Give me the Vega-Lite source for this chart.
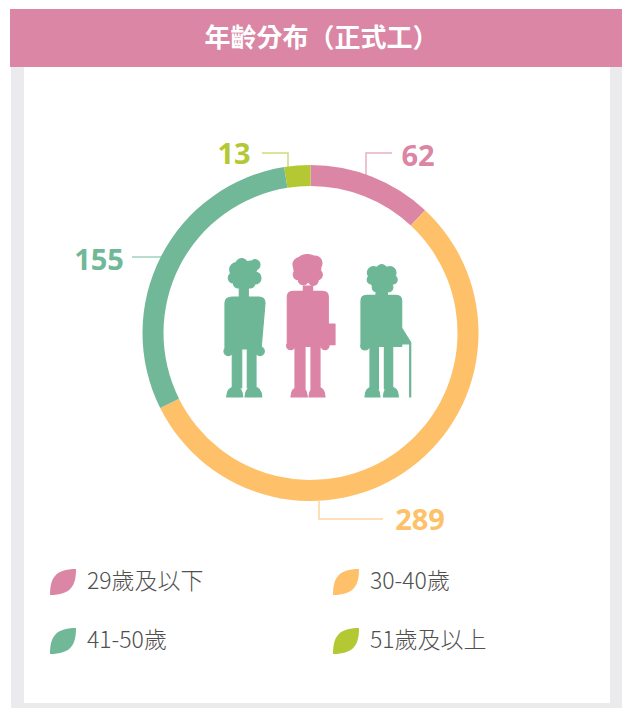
{
"$schema":"https://vega.github.io/schema/vega-lite/v6.json",
"width":622,"height":708,"padding":0,"autosize":"none","background":"#ffffff",
"config":{"view":{"stroke":null},"axis":{"disable":true}},
"title":{"text":"年齡分布（正式工）","font":"Noto Sans CJK TC","fontWeight":700,"fontSize":26,"color":"#ffffff","anchor":"middle","frame":"group","dx":10.5,"dy":51.5,"offset":0,"zindex":1},
"datasets":{
"ages":[{"group":"29歲及以下","count":62,"rank":1},{"group":"30-40歲","count":289,"rank":2},{"group":"41-50歲","count":155,"rank":3},{"group":"51歲及以上","count":13,"rank":4}],
"leaders":[
{"group":"29歲及以下","step":1,"px":366,"py":176},{"group":"29歲及以下","step":2,"px":366,"py":153},{"group":"29歲及以下","step":3,"px":392,"py":153},
{"group":"30-40歲","step":1,"px":319,"py":501},{"group":"30-40歲","step":2,"px":319,"py":519},{"group":"30-40歲","step":3,"px":383,"py":519},
{"group":"41-50歲","step":1,"px":132,"py":257},{"group":"41-50歲","step":2,"px":164,"py":257},
{"group":"51歲及以上","step":1,"px":262,"py":153},{"group":"51歲及以上","step":2,"px":288,"py":153},{"group":"51歲及以上","step":3,"px":288,"py":167}],
"labels":[{"group":"29歲及以下","count":62,"px":418,"py":156.5},{"group":"30-40歲","count":289,"px":420,"py":520.5},{"group":"41-50歲","count":155,"px":99,"py":260.5},{"group":"51歲及以上","count":13,"px":234,"py":154.5}]
},
"layer":[
{"data":{"values":[{}]},"mark":{"type":"rect","color":"#ebebed"},"encoding":{
"x":{"datum":11,"type":"quantitative","scale":{"domain":[0,622],"nice":false,"zero":false},"axis":null},"x2":{"datum":622},
"y":{"datum":67,"type":"quantitative","scale":{"domain":[0,708],"reverse":true,"nice":false,"zero":false},"axis":null},"y2":{"datum":708}}},
{"data":{"values":[{}]},"mark":{"type":"rect","color":"#ffffff"},"encoding":{
"x":{"datum":24,"type":"quantitative"},"x2":{"datum":610},"y":{"datum":67,"type":"quantitative"},"y2":{"datum":703}}},
{"data":{"values":[{}]},"mark":{"type":"rect","color":"#da86a4"},"encoding":{
"x":{"datum":10,"type":"quantitative"},"x2":{"datum":622},"y":{"datum":9,"type":"quantitative"},"y2":{"datum":67}}},
{"data":{"name":"ages"},"mark":{"type":"arc","outerRadius":168,"innerRadius":147},"encoding":{
"theta":{"field":"count","type":"quantitative","stack":true},
"order":{"field":"rank"},
"x":{"value":310.5},"y":{"value":333},
"color":{"field":"group","type":"nominal","scale":{"domain":["29歲及以下","30-40歲","41-50歲","51歲及以上"],"range":["#da86a4","#fec16a","#70b898","#b3c833"]},
"legend":{"orient":"none","direction":"horizontal","legendX":50,"legendY":569,"columns":2,"title":null,"padding":0,"zindex":1,"gridAlign":"all","symbolType":"M1 -1C-0.6 -1 -1 -0.3 -1 1C0.6 1 1 0.3 1 -1Z","symbolSize":676,"symbolStrokeWidth":0,"symbolOpacity":1,"labelOffset":11,"labelFont":"Noto Sans CJK TC","labelFontWeight":300,"labelFontSize":23,"labelColor":"#505050","labelLimit":300,"columnPadding":129,"rowPadding":33}}}},
{"data":{"name":"leaders"},"mark":{"type":"line","strokeWidth":1.5,"strokeOpacity":0.65},"encoding":{
"x":{"field":"px","type":"quantitative"},"y":{"field":"py","type":"quantitative"},"order":{"field":"step"},
"color":{"field":"group","type":"nominal"}}},
{"data":{"name":"labels"},"mark":{"type":"text","font":"Open Sans","fontWeight":700,"fontSize":29,"align":"center","baseline":"middle"},"encoding":{
"x":{"field":"px","type":"quantitative"},"y":{"field":"py","type":"quantitative"},"text":{"field":"count","type":"nominal"},
"color":{"field":"group","type":"nominal"}}},
{"data":{"values":[{"figure":"younger"}]},"mark":{"type":"point","filled":true,"opacity":1,"size":4,"fill":"#6db797","stroke":"#6db797","strokeWidth":1.2,"strokeJoin":"round",
"shape":"M-13.7 -122a13 13 0 1 1 26 0a13 13 0 1 1 -26 0ZM-14.3 -127.3a7 7 0 1 1 14 0a7 7 0 1 1 -14 0ZM-1 -129a7 7 0 1 1 14 0a7 7 0 1 1 -14 0ZM6 -132.3a5 5 0 1 1 10 0a5 5 0 1 1 -10 0ZM-8.3 -132.3a6 6 0 1 1 12 0a6 6 0 1 1 -12 0ZM-15.7 -119a5 5 0 1 1 10 0a5 5 0 1 1 -10 0ZM5 -119a6 6 0 1 1 12 0a6 6 0 1 1 -12 0ZM-10.7 -114a5 5 0 1 1 10 0a5 5 0 1 1 -10 0ZM1 -114a5 5 0 1 1 10 0a5 5 0 1 1 -10 0ZM-4.7 -111H4.3V-97H-4.7ZM-19 -94Q-19 -100 -12 -100L15 -100Q21 -100 21 -94L17 -48L-19 -48ZM-20 -45.7a4.3 4.3 0 1 1 8.6 0a4.3 4.3 0 1 1 -8.6 0ZM11.7 -45.7a4.3 4.3 0 1 1 8.6 0a4.3 4.3 0 1 1 -8.6 0ZM-11.7 -49H-2.3V-9H-11.7ZM3.3 -49H12V-9H3.3ZM-17.3 0Q-17 -10 -9 -10Q-1.5 -10 -1.3 0ZM1 0Q1.5 -10 9 -10Q17.5 -10 17.7 0Z"},
"encoding":{"x":{"datum":244,"type":"quantitative"},"y":{"datum":397,"type":"quantitative"}}},
{"data":{"values":[{"figure":"middle"}]},"mark":{"type":"point","filled":true,"opacity":1,"size":4,"fill":"#dc84a6","stroke":"#dc84a6","strokeWidth":1.2,"strokeJoin":"round",
"shape":"M-14.5 -129a13.5 13.5 0 1 1 27 0a13.5 13.5 0 1 1 -27 0ZM-15.3 -132.3a7 7 0 1 1 14 0a7 7 0 1 1 -14 0ZM-0.3 -134a7 7 0 1 1 14 0a7 7 0 1 1 -14 0ZM-6.7 -136.7a5 5 0 1 1 10 0a5 5 0 1 1 -10 0ZM-15 -122.3a5 5 0 1 1 10 0a5 5 0 1 1 -10 0ZM4 -122.3a5 5 0 1 1 10 0a5 5 0 1 1 -10 0ZM-10 -117.3a5 5 0 1 1 10 0a5 5 0 1 1 -10 0ZM0 -116.7a5 5 0 1 1 10 0a5 5 0 1 1 -10 0ZM-5 -111H4.3V-104H-5ZM-21 -100Q-21 -105.7 -15 -105.7L14 -105.7Q20 -105.7 20 -100L20 -50.7L-21 -50.7ZM20 -73H26.7V-52.3H20ZM-21.7 -51.3a4 4 0 1 1 8 0a4 4 0 1 1 -8 0ZM12.7 -51.3a4 4 0 1 1 8 0a4 4 0 1 1 -8 0ZM-13.3 -52H-3.3V-8H-13.3ZM2.7 -52H11.7V-8H2.7ZM-17.3 0Q-17 -10 -9 -10Q-1.3 -10 -1 0ZM0.7 0Q1 -10 8.7 -10Q16.5 -10 16.7 0Z"},
"encoding":{"x":{"datum":308.3,"type":"quantitative"},"y":{"datum":397,"type":"quantitative"}}},
{"data":{"values":[{"figure":"older"}]},"mark":{"type":"point","filled":true,"opacity":1,"size":4,"fill":"#6db797","stroke":"#6db797","strokeWidth":1.2,"strokeJoin":"round",
"shape":"M-12 -119a12 12 0 1 1 24 0a12 12 0 1 1 -24 0ZM-14.3 -124.3a6 6 0 1 1 12 0a6 6 0 1 1 -12 0ZM2.3 -124.3a6 6 0 1 1 12 0a6 6 0 1 1 -12 0ZM-5 -127.3a5 5 0 1 1 10 0a5 5 0 1 1 -10 0ZM-14.5 -117.3a4.5 4.5 0 1 1 9 0a4.5 4.5 0 1 1 -9 0ZM6.5 -117.3a4.5 4.5 0 1 1 9 0a4.5 4.5 0 1 1 -9 0ZM-9.5 -109.7a4.5 4.5 0 1 1 9 0a4.5 4.5 0 1 1 -9 0ZM2.2 -109.7a4.5 4.5 0 1 1 9 0a4.5 4.5 0 1 1 -9 0ZM-5.7 -107H5.7V-99H-5.7ZM-20.7 -96Q-20.7 -101.7 -15 -101.7L14 -101.7Q20 -101.7 20 -96L20 -50.7L-20.7 -50.7ZM20 -69L28.3 -55.7L20 -53ZM-21 -51.3a4.3 4.3 0 1 1 8.6 0a4.3 4.3 0 1 1 -8.6 0ZM18 -55H29V-53H18ZM28 -55H29V0H28ZM-11.7 -52H-3.3V-8H-11.7ZM2.7 -52H11V-8H2.7ZM-16.7 0Q-16.5 -10 -9 -10Q-2 -10 -1.7 0ZM1.7 0Q2 -10 9 -10Q16.5 -10 16.7 0Z"},
"encoding":{"x":{"datum":381.7,"type":"quantitative"},"y":{"datum":397,"type":"quantitative"}}}
]
}
